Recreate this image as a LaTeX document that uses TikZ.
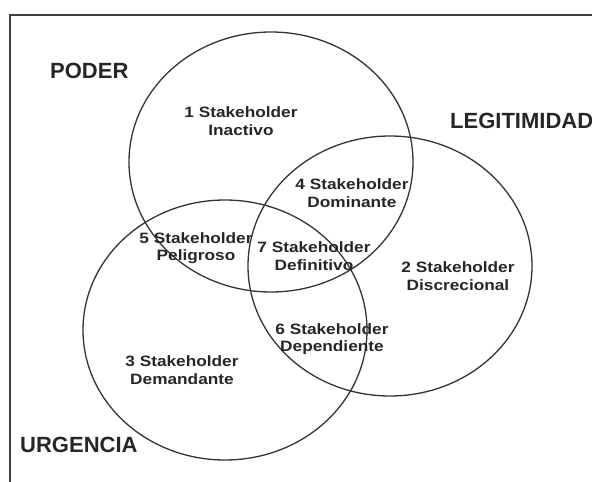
\documentclass[tikz,border=0pt]{standalone}
\usepackage{fontspec}
\setmainfont{Liberation Sans}
\newfontfamily\lblfont[FakeStretch=1.15]{Liberation Sans Bold}
\newfontfamily\headfont{Liberation Sans Bold}
\usetikzlibrary{shapes.geometric}
\begin{document}
\begin{tikzpicture}[x=1pt,y=-1pt,
  setring/.style={draw=black!80, line width=1.3pt, ellipse, inner sep=0pt,
    minimum width=284pt, minimum height=260pt},
  head/.style={font=\headfont\fontsize{22}{24}\selectfont, text=black!85, inner sep=0pt},
  zone/.style={font=\lblfont\fontsize{15}{17.5}\selectfont, text=black!85, align=center, inner sep=0pt},
  frameline/.style={draw=black!75, line width=2pt}]
\useasboundingbox (0,0) rectangle (592,482);
\coordinate (ftop) at (10,15);
\coordinate (fright) at (592,15);
\coordinate (fbot) at (10,482);
\draw[frameline] (fbot) -- (ftop) -- (fright);
\node[setring] (poder) at (271,162) {};
\node[setring] (legit) at (390,266) {};
\node[setring] (urg) at (225,330) {};
\node[head, anchor=west] (tpoder) at (50,71) {PODER};
\node[head, anchor=west] (tlegit) at (450,121) {LEGITIMIDAD};
\node[head, anchor=west] (turg) at (20,445) {URGENCIA};
\node[zone] (z1) at (241,121) {1 Stakeholder\\Inactivo};
\node[zone] (z2) at (458,276) {2 Stakeholder\\Discrecional};
\node[zone] (z3) at (182,370) {3 Stakeholder\\Demandante};
\node[zone] (z4) at (352,193) {4 Stakeholder\\Dominante};
\node[zone] (z5) at (196,248) {5 Stakeholder\\Peligroso};
\node[zone] (z6) at (332,339) {6 Stakeholder\\Dependiente};
\node[zone] (z7) at (314,256) {7 Stakeholder\\Definitivo};
\end{tikzpicture}
\end{document}
